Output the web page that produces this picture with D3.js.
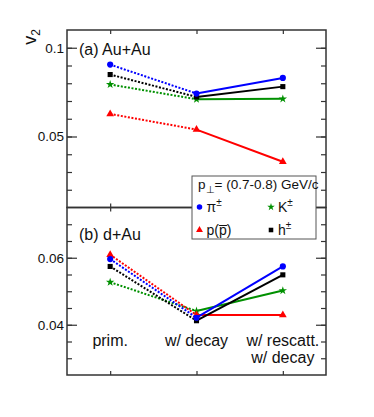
<!DOCTYPE html>
<html>
<head>
<meta charset="utf-8">
<script src="https://cdn.jsdelivr.net/npm/d3@7"></script>
<style>
  body { margin: 0; background: #fff; }
  svg { font-family: "Liberation Sans", Arial, sans-serif; }
</style>
</head>
<body>
<svg id="chart" width="374" height="417"></svg>
<script>
// categories along x
var categories = ["prim.", "w/ decay", "w/ rescatt.|w/ decay"];

// (a) Au+Au
var piAuAu = [0.0905, 0.0742, 0.0830];
var kAuAu  = [0.0793, 0.0710, 0.0712];
var pAuAu  = [0.0627, 0.0539, 0.0358];
var hAuAu  = [0.0849, 0.0723, 0.0781];

// (b) d+Au
var piDAu = [0.0596, 0.0421, 0.0574];
var kDAu  = [0.0527, 0.0441, 0.0502];
var pDAu  = [0.0609, 0.0429, 0.0429];
var hDAu  = [0.0574, 0.0412, 0.0549];

var species = [
    {key: "K",  label: "K", sup: "\u00b1", color: "#009000", symbol: d3.symbolStar,     size: 22},
    {key: "p",  label: "p(p\u0305)", sup: "",  color: "#ff0000", symbol: d3.symbolTriangle, size: 26},
    {key: "h",  label: "h", sup: "\u00b1", color: "#000000", symbol: d3.symbolSquare,   size: 26},
    {key: "pi", label: "\u03c0", sup: "\u00b1", color: "#0000ff", symbol: d3.symbolCircle, size: 30}
];

var panels = [
    {name: "(a) Au+Au", top: 30, bottom: 207.5, domain: [0.01, 0.11],
     major: [0.05, 0.1], minor: d3.range(0.02, 0.1001, 0.01), fmt: d3.format(".2~f"),
     series: {pi: piAuAu, K: kAuAu, p: pAuAu, h: hAuAu}},
    {name: "(b) d+Au", top: 207.5, bottom: 375, domain: [0.025, 0.075],
     major: [0.04, 0.06], minor: d3.range(0.03, 0.0701, 0.005), fmt: d3.format(".2f"),
     series: {pi: piDAu, K: kDAu, p: pDAu, h: hDAu}}
];

var left = 67, right = 326;
var svg = d3.select("#chart");

var x = d3.scaleLinear().domain([-0.5, 2.5]).range([left, right]);

panels.forEach(function (pn) {
    var y = d3.scaleLinear().domain(pn.domain).range([pn.bottom, pn.top]);
    var g = svg.append("g");

    // minor ticks left/right
    g.append("g").attr("transform", "translate(" + left + ",0)")
        .call(d3.axisLeft(y).tickValues(pn.minor).tickSize(-5).tickSizeOuter(0).tickFormat(""));
    g.append("g").attr("transform", "translate(" + right + ",0)")
        .call(d3.axisRight(y).tickValues(pn.minor).tickSize(-5).tickSizeOuter(0).tickFormat(""));
    // major ticks
    g.append("g").attr("class", "ymajor").attr("transform", "translate(" + left + ",0)")
        .call(d3.axisLeft(y).tickValues(pn.major).tickSize(-10).tickSizeOuter(0).tickPadding(3).tickFormat(pn.fmt));
    g.append("g").attr("transform", "translate(" + right + ",0)")
        .call(d3.axisRight(y).tickValues(pn.major).tickSize(-10).tickSizeOuter(0).tickFormat(""));
    // category ticks top and bottom
    g.append("g").attr("transform", "translate(0," + pn.top + ")")
        .call(d3.axisTop(x).tickValues([0, 1, 2]).tickSize(-4).tickSizeOuter(0).tickFormat(""));
    g.append("g").attr("transform", "translate(0," + pn.bottom + ")")
        .call(d3.axisBottom(x).tickValues([0, 1, 2]).tickSize(-4).tickSizeOuter(0).tickFormat(""));

    g.selectAll(".domain").remove();
    g.selectAll(".tick line").attr("stroke", "#333").attr("stroke-width", 1.2);
    g.selectAll(".ymajor text").attr("font-size", 13.5).attr("fill", "#111")
        .attr("font-family", "Liberation Sans, Arial, sans-serif");

    // frame
    g.append("rect")
        .attr("x", left).attr("y", pn.top)
        .attr("width", right - left).attr("height", pn.bottom - pn.top)
        .attr("fill", "none").attr("stroke", "#333").attr("stroke-width", 1.5);

    g.append("text")
        .attr("x", 79).attr("y", pn.top + (pn.top < 100 ? 25 : 32))
        .attr("font-size", 16).attr("fill", "#111")
        .text(pn.name);

    // series
    species.forEach(function (s) {
        var vals = pn.series[s.key];
        var pts = vals.map(function (v, i) { return [x(i), y(v)]; });
        g.append("line")
            .attr("x1", pts[0][0]).attr("y1", pts[0][1])
            .attr("x2", pts[1][0]).attr("y2", pts[1][1])
            .attr("stroke", s.color).attr("stroke-width", 2)
            .attr("stroke-dasharray", "2,1.6");
        g.append("line")
            .attr("x1", pts[1][0]).attr("y1", pts[1][1])
            .attr("x2", pts[2][0]).attr("y2", pts[2][1])
            .attr("stroke", s.color).attr("stroke-width", 2);
        g.selectAll(null).data(pts).enter().append("path")
            .attr("transform", function (d) { return "translate(" + d[0] + "," + d[1] + ")"; })
            .attr("d", d3.symbol().type(s.symbol).size(s.size))
            .attr("fill", s.color);
    });
});

// category labels
categories.forEach(function (c, i) {
    var t = svg.append("text")
        .attr("x", x(i)).attr("y", 346)
        .attr("text-anchor", "middle")
        .attr("font-size", 16).attr("fill", "#111");
    c.split("|").forEach(function (line, j) {
        t.append("tspan").attr("x", x(i)).attr("dy", j === 0 ? 0 : 17).text(line);
    });
});

// y label
var yl = svg.append("text")
    .attr("transform", "translate(36,37) rotate(-90)")
    .attr("text-anchor", "middle")
    .attr("font-size", 18).attr("fill", "#111");
yl.append("tspan").text("v");
yl.append("tspan").attr("font-size", 12).attr("dy", 4).text("2");

// legend
var lg = svg.append("g");
lg.append("rect")
    .attr("x", 192).attr("y", 176).attr("width", 124).attr("height", 63)
    .attr("fill", "#fff").attr("stroke", "#555").attr("stroke-width", 1);
var head = lg.append("text").attr("x", 198).attr("y", 189).attr("font-size", 13.5).attr("fill", "#111");
head.append("tspan").text("p");
head.append("tspan").attr("font-size", 10).attr("dy", 4).text("\u22a5");
head.append("tspan").attr("dy", -4).text("= (0.7-0.8) GeV/c");

var legendPos = {pi: [199.5, 207], K: [271, 207], p: [199.5, 230], h: [271, 230]};
species.forEach(function (s) {
    var pos = legendPos[s.key];
    lg.append("path")
        .attr("transform", "translate(" + pos[0] + "," + pos[1] + ")")
        .attr("d", d3.symbol().type(s.symbol).size(s.size * 0.8))
        .attr("fill", s.color);
    var t = lg.append("text").attr("x", pos[0] + 7).attr("y", pos[1] + 5)
        .attr("font-size", 14).attr("fill", "#111");
    t.append("tspan").text(s.label);
    if (s.sup) t.append("tspan").attr("font-size", 10).attr("dy", -6).text(s.sup);
});
</script>
</body>
</html>
